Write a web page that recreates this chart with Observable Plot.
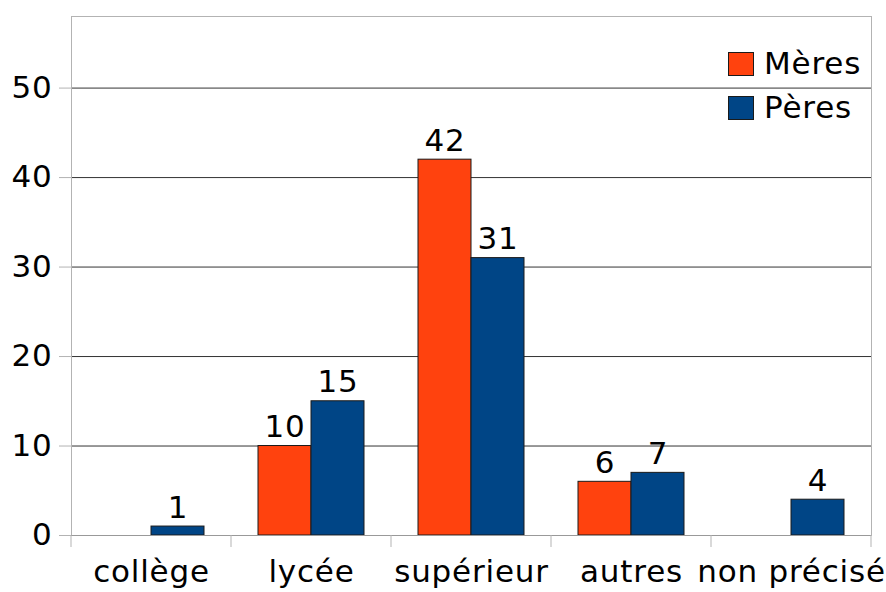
<!DOCTYPE html>
<html>
<head>
<meta charset="utf-8">
<script src="https://cdn.jsdelivr.net/npm/d3@7"></script>
<script src="https://cdn.jsdelivr.net/npm/@observablehq/plot@0.6"></script>
<style>
  html, body { margin: 0; padding: 0; background: #fff; }
  #wrap { position: relative; width: 886px; height: 592px; font-family: "DejaVu Sans", sans-serif; }
  #wrap svg text { letter-spacing: 0.8px; }
  #legend { position: absolute; left: 728px; top: 52px; }
  .item { display: flex; align-items: center; height: 23px; margin-bottom: 21px; }
  .sw { width: 24px; height: 22px; border: 1px solid #1a1a1a; margin-right: 10px; box-sizing: content-box; }
  .lab { font-size: 31px; color: #000; line-height: 23px; letter-spacing: 0.8px; }
</style>
</head>
<body>
<div id="wrap"></div>
<script>
const categories = ["collège", "lycée", "supérieur", "autres", "non précisé"];
const series = ["Mères", "Pères"];
const meres = [0, 10, 42, 6, 0];
const peres = [1, 15, 31, 7, 4];
const yTicks = [0, 10, 20, 30, 40, 50];
const yMax = 58;
const colors = ["#ff420e", "#004586"];

const data = [];
categories.forEach((c, i) => {
  data.push({cat: c, series: series[0], value: meres[i]});
  data.push({cat: c, series: series[1], value: peres[i]});
});
const shown = data.filter(d => d.value > 0);

const plot = Plot.plot({
  width: 886,
  height: 592,
  marginLeft: 70,
  marginRight: 15,
  marginTop: 16,
  marginBottom: 57,
  style: {fontFamily: "DejaVu Sans, sans-serif", fontSize: "31px", color: "#000", background: "#fff"},
  fx: {domain: categories, padding: 0},
  x: {domain: series, paddingInner: 0, paddingOuter: 0.5, axis: null},
  y: {domain: [0, yMax]},
  color: {domain: series, range: colors},
  marks: [
    Plot.ruleY(yTicks.slice(1), {stroke: "#333", strokeWidth: 1}),
    Plot.ruleY([yMax], {stroke: "#b3b3b3", strokeWidth: 1}),
    Plot.frame({anchor: "left", facetAnchor: "left", stroke: "#b3b3b3"}),
    Plot.frame({anchor: "right", facetAnchor: "right", stroke: "#b3b3b3"}),
    Plot.barY(shown, {fx: "cat", x: "series", y: "value", fill: "series", stroke: "#1a1a1a", strokeWidth: 1, inset: 0}),
    Plot.ruleY([0], {stroke: "#999", strokeWidth: 1}),
    Plot.text(shown, {fx: "cat", x: "series", y: "value", text: d => String(d.value), lineAnchor: "bottom", dy: -9, fontSize: 31, fill: "#000"}),
    Plot.axisY({ticks: yTicks, tickSize: 12, tickPadding: 7, stroke: "#b3b3b3", fontSize: 31, label: null, tickFormat: d => String(d)}),
    Plot.axisFx({anchor: "bottom", tickSize: 0, tickPadding: 24, fontSize: 31, label: null})
  ]
});

// boundary tick marks under the categories, placed from the fx / y scales
const fx = plot.scale("fx");
const y = plot.scale("y");
const y0 = y.apply(0);
const xs = categories.map(c => fx.apply(c));
xs.push(fx.apply(categories[categories.length - 1]) + fx.bandwidth);
const g = d3.select(plot).append("g").attr("stroke", "#b3b3b3");
xs.forEach(x => {
  g.append("line").attr("x1", x).attr("x2", x).attr("y1", y0).attr("y2", y0 + 12);
});

const wrap = document.getElementById("wrap");
wrap.appendChild(plot);
const legend = document.createElement("div");
legend.id = "legend";
series.forEach((s, i) => {
  const it = document.createElement("div");
  it.className = "item";
  const sw = document.createElement("div");
  sw.className = "sw";
  sw.style.background = colors[i];
  const lab = document.createElement("span");
  lab.className = "lab";
  lab.textContent = s;
  it.appendChild(sw);
  it.appendChild(lab);
  legend.appendChild(it);
});
wrap.appendChild(legend);
</script>
</body>
</html>
